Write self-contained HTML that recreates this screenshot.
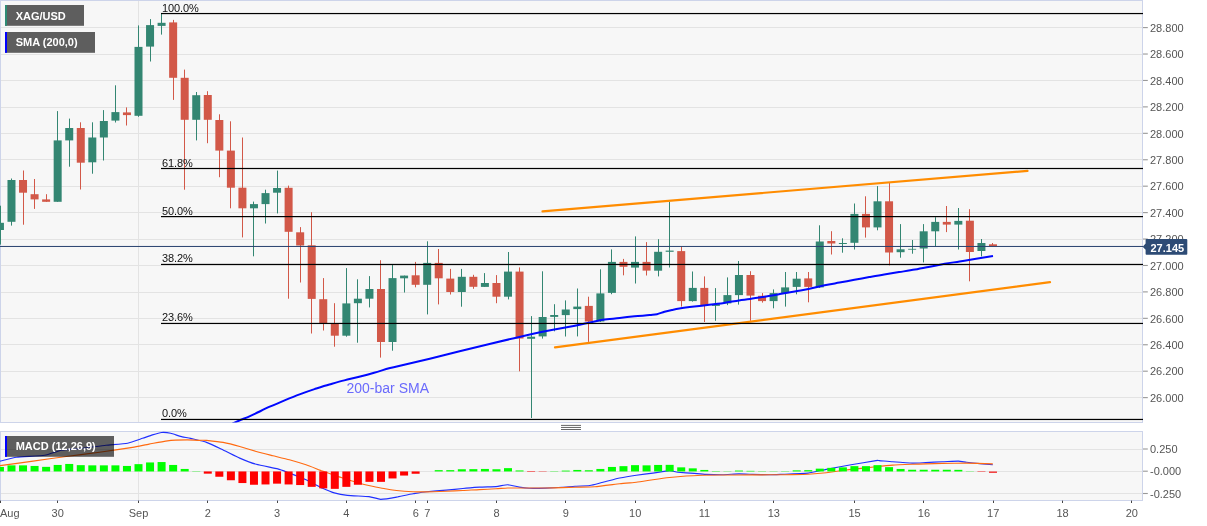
<!DOCTYPE html>
<html lang="en">
<head>
<meta charset="utf-8">
<title>XAG/USD chart</title>
<style>
html,body{margin:0;padding:0;background:#fff;}
body{width:1207px;height:526px;overflow:hidden;font-family:"Liberation Sans",sans-serif;}
svg{display:block;}
</style>
</head>
<body>
<svg width="1207" height="526" viewBox="0 0 1207 526" font-family="'Liberation Sans', sans-serif">
<rect x="0" y="0" width="1207" height="526" fill="#ffffff"/>
<rect x="0" y="0" width="1143" height="422.5" fill="#f7f7f7"/>
<rect x="0" y="431" width="1143" height="69.5" fill="#f7f7f7"/>
<defs><clipPath id="cm"><rect x="0" y="0" width="1143" height="422.5"/></clipPath><clipPath id="cd"><rect x="0" y="431" width="1143" height="69.5"/></clipPath></defs>
<rect x="1" y="27" width="1141.5" height="1" fill="#e3e3e3"/>
<rect x="1" y="54" width="1141.5" height="1" fill="#e3e3e3"/>
<rect x="1" y="80" width="1141.5" height="1" fill="#e3e3e3"/>
<rect x="1" y="107" width="1141.5" height="1" fill="#e3e3e3"/>
<rect x="1" y="133" width="1141.5" height="1" fill="#e3e3e3"/>
<rect x="1" y="159" width="1141.5" height="1" fill="#e3e3e3"/>
<rect x="1" y="186" width="1141.5" height="1" fill="#e3e3e3"/>
<rect x="1" y="212" width="1141.5" height="1" fill="#e3e3e3"/>
<rect x="1" y="239" width="1141.5" height="1" fill="#e3e3e3"/>
<rect x="1" y="265" width="1141.5" height="1" fill="#e3e3e3"/>
<rect x="1" y="292" width="1141.5" height="1" fill="#e3e3e3"/>
<rect x="1" y="318" width="1141.5" height="1" fill="#e3e3e3"/>
<rect x="1" y="344" width="1141.5" height="1" fill="#e3e3e3"/>
<rect x="1" y="371" width="1141.5" height="1" fill="#e3e3e3"/>
<rect x="1" y="397" width="1141.5" height="1" fill="#e3e3e3"/>
<rect x="138.00" y="1" width="1" height="421" fill="#e3e3e3"/>
<rect x="138.00" y="431.5" width="1" height="68.5" fill="#e3e3e3"/>
<rect x="1" y="449" width="1141.5" height="1" fill="#e3e3e3"/>
<rect x="1" y="471" width="1141.5" height="1" fill="#e3e3e3"/>
<rect x="1" y="493" width="1141.5" height="1" fill="#e3e3e3"/>
<rect x="0.5" y="0.5" width="1142" height="422" fill="none" stroke="#cdd4ea" stroke-width="1"/>
<rect x="0.5" y="431.5" width="1142" height="69" fill="none" stroke="#cdd4ea" stroke-width="1"/>
<g clip-path="url(#cm)">
<rect x="0" y="205.70" width="1" height="38.90" fill="#338672"/>
<rect x="-4.06" y="222.80" width="8" height="7.20" fill="#338672"/>
<rect x="11" y="178.50" width="1" height="47.10" fill="#338672"/>
<rect x="7.48" y="180.00" width="8" height="41.80" fill="#338672"/>
<rect x="23" y="170.50" width="1" height="54.20" fill="#d25848"/>
<rect x="19.03" y="180.00" width="8" height="12.70" fill="#d25848"/>
<rect x="34" y="179.00" width="1" height="29.90" fill="#d25848"/>
<rect x="30.58" y="194.20" width="8" height="5.20" fill="#d25848"/>
<rect x="46" y="194.20" width="1" height="7.60" fill="#d25848"/>
<rect x="42.12" y="199.40" width="8" height="2.40" fill="#d25848"/>
<rect x="57" y="111.10" width="1" height="90.70" fill="#338672"/>
<rect x="53.67" y="140.40" width="8" height="61.40" fill="#338672"/>
<rect x="69" y="118.60" width="1" height="48.10" fill="#338672"/>
<rect x="65.22" y="128.00" width="8" height="12.40" fill="#338672"/>
<rect x="80" y="122.30" width="1" height="67.20" fill="#d25848"/>
<rect x="76.77" y="128.00" width="8" height="34.70" fill="#d25848"/>
<rect x="92" y="122.30" width="1" height="51.40" fill="#338672"/>
<rect x="88.31" y="137.50" width="8" height="24.80" fill="#338672"/>
<rect x="103" y="110.10" width="1" height="50.40" fill="#338672"/>
<rect x="99.86" y="121.00" width="8" height="16.50" fill="#338672"/>
<rect x="115" y="85.30" width="1" height="37.20" fill="#338672"/>
<rect x="111.41" y="112.10" width="8" height="8.50" fill="#338672"/>
<rect x="126" y="107.40" width="1" height="18.10" fill="#d25848"/>
<rect x="122.95" y="112.40" width="8" height="2.70" fill="#d25848"/>
<rect x="138" y="25.40" width="1" height="91.40" fill="#338672"/>
<rect x="134.50" y="46.90" width="8" height="68.90" fill="#338672"/>
<rect x="150" y="19.10" width="1" height="42.40" fill="#338672"/>
<rect x="146.05" y="25.10" width="8" height="21.50" fill="#338672"/>
<rect x="161" y="13.70" width="1" height="20.90" fill="#338672"/>
<rect x="157.59" y="22.80" width="8" height="3.10" fill="#338672"/>
<rect x="173" y="19.90" width="1" height="80.00" fill="#d25848"/>
<rect x="169.14" y="22.40" width="8" height="55.40" fill="#d25848"/>
<rect x="184" y="69.60" width="1" height="120.10" fill="#d25848"/>
<rect x="180.69" y="77.80" width="8" height="42.00" fill="#d25848"/>
<rect x="196" y="92.00" width="1" height="48.40" fill="#338672"/>
<rect x="192.24" y="95.20" width="8" height="24.60" fill="#338672"/>
<rect x="207" y="91.20" width="1" height="52.00" fill="#d25848"/>
<rect x="203.78" y="95.00" width="8" height="24.80" fill="#d25848"/>
<rect x="219" y="114.30" width="1" height="62.90" fill="#d25848"/>
<rect x="215.33" y="120.00" width="8" height="30.60" fill="#d25848"/>
<rect x="230" y="121.30" width="1" height="87.00" fill="#d25848"/>
<rect x="226.88" y="150.60" width="8" height="37.10" fill="#d25848"/>
<rect x="242" y="137.50" width="1" height="99.90" fill="#d25848"/>
<rect x="238.42" y="187.70" width="8" height="20.60" fill="#d25848"/>
<rect x="253" y="201.60" width="1" height="54.70" fill="#338672"/>
<rect x="249.97" y="204.10" width="8" height="4.20" fill="#338672"/>
<rect x="265" y="189.70" width="1" height="33.80" fill="#338672"/>
<rect x="261.52" y="193.10" width="8" height="11.00" fill="#338672"/>
<rect x="277" y="170.60" width="1" height="42.80" fill="#338672"/>
<rect x="273.06" y="188.00" width="8" height="4.70" fill="#338672"/>
<rect x="288" y="185.60" width="1" height="113.10" fill="#d25848"/>
<rect x="284.61" y="187.80" width="8" height="44.00" fill="#d25848"/>
<rect x="300" y="227.10" width="1" height="55.40" fill="#d25848"/>
<rect x="296.16" y="232.30" width="8" height="13.20" fill="#d25848"/>
<rect x="311" y="212.20" width="1" height="121.30" fill="#d25848"/>
<rect x="307.71" y="245.30" width="8" height="53.60" fill="#d25848"/>
<rect x="323" y="278.10" width="1" height="52.40" fill="#d25848"/>
<rect x="319.25" y="299.20" width="8" height="23.90" fill="#d25848"/>
<rect x="334" y="303.20" width="1" height="43.50" fill="#d25848"/>
<rect x="330.80" y="323.60" width="8" height="12.10" fill="#d25848"/>
<rect x="346" y="268.10" width="1" height="68.60" fill="#338672"/>
<rect x="342.35" y="303.40" width="8" height="32.30" fill="#338672"/>
<rect x="357" y="279.30" width="1" height="63.40" fill="#338672"/>
<rect x="353.89" y="298.70" width="8" height="4.50" fill="#338672"/>
<rect x="369" y="276.10" width="1" height="31.30" fill="#338672"/>
<rect x="365.44" y="289.00" width="8" height="9.70" fill="#338672"/>
<rect x="380" y="260.20" width="1" height="97.40" fill="#d25848"/>
<rect x="376.99" y="289.00" width="8" height="53.00" fill="#d25848"/>
<rect x="392" y="264.40" width="1" height="86.30" fill="#338672"/>
<rect x="388.53" y="278.10" width="8" height="63.90" fill="#338672"/>
<rect x="404" y="275.60" width="1" height="16.90" fill="#338672"/>
<rect x="400.08" y="275.60" width="8" height="2.70" fill="#338672"/>
<rect x="415" y="261.90" width="1" height="25.40" fill="#d25848"/>
<rect x="411.63" y="275.30" width="8" height="9.50" fill="#d25848"/>
<rect x="427" y="241.30" width="1" height="73.10" fill="#338672"/>
<rect x="423.18" y="262.90" width="8" height="21.90" fill="#338672"/>
<rect x="438" y="249.00" width="1" height="55.40" fill="#d25848"/>
<rect x="434.72" y="262.90" width="8" height="15.40" fill="#d25848"/>
<rect x="450" y="268.90" width="1" height="25.60" fill="#d25848"/>
<rect x="446.27" y="278.60" width="8" height="13.40" fill="#d25848"/>
<rect x="461" y="268.90" width="1" height="37.80" fill="#338672"/>
<rect x="457.82" y="276.80" width="8" height="15.20" fill="#338672"/>
<rect x="473" y="274.80" width="1" height="14.00" fill="#d25848"/>
<rect x="469.36" y="276.80" width="8" height="10.00" fill="#d25848"/>
<rect x="484" y="273.10" width="1" height="13.80" fill="#338672"/>
<rect x="480.91" y="283.00" width="8" height="3.90" fill="#338672"/>
<rect x="496" y="275.10" width="1" height="28.10" fill="#d25848"/>
<rect x="492.46" y="283.00" width="8" height="13.70" fill="#d25848"/>
<rect x="508" y="252.00" width="1" height="47.40" fill="#338672"/>
<rect x="504.00" y="271.60" width="8" height="25.10" fill="#338672"/>
<rect x="519" y="267.40" width="1" height="103.90" fill="#d25848"/>
<rect x="515.55" y="271.60" width="8" height="66.90" fill="#d25848"/>
<rect x="531" y="316.10" width="1" height="101.90" fill="#338672"/>
<rect x="527.10" y="336.70" width="8" height="2.10" fill="#338672"/>
<rect x="542" y="271.30" width="1" height="67.30" fill="#338672"/>
<rect x="538.64" y="317.00" width="8" height="19.40" fill="#338672"/>
<rect x="554" y="304.20" width="1" height="27.10" fill="#338672"/>
<rect x="550.19" y="315.00" width="8" height="1.90" fill="#338672"/>
<rect x="565" y="300.40" width="1" height="36.10" fill="#338672"/>
<rect x="561.74" y="309.50" width="8" height="5.60" fill="#338672"/>
<rect x="577" y="288.50" width="1" height="47.90" fill="#338672"/>
<rect x="573.29" y="306.60" width="8" height="2.50" fill="#338672"/>
<rect x="588" y="296.70" width="1" height="45.20" fill="#d25848"/>
<rect x="584.83" y="305.90" width="8" height="15.60" fill="#d25848"/>
<rect x="600" y="269.30" width="1" height="52.70" fill="#338672"/>
<rect x="596.38" y="293.40" width="8" height="28.10" fill="#338672"/>
<rect x="611" y="249.40" width="1" height="44.80" fill="#338672"/>
<rect x="607.93" y="261.90" width="8" height="31.00" fill="#338672"/>
<rect x="623" y="258.90" width="1" height="16.40" fill="#d25848"/>
<rect x="619.47" y="261.90" width="8" height="4.90" fill="#d25848"/>
<rect x="635" y="236.40" width="1" height="47.10" fill="#338672"/>
<rect x="631.02" y="261.90" width="8" height="5.70" fill="#338672"/>
<rect x="646" y="242.10" width="1" height="33.40" fill="#d25848"/>
<rect x="642.57" y="261.90" width="8" height="8.70" fill="#d25848"/>
<rect x="658" y="239.20" width="1" height="37.20" fill="#338672"/>
<rect x="654.12" y="251.80" width="8" height="18.90" fill="#338672"/>
<rect x="669" y="201.90" width="1" height="65.60" fill="#338672"/>
<rect x="665.66" y="250.60" width="8" height="1.20" fill="#338672"/>
<rect x="681" y="246.60" width="1" height="60.00" fill="#d25848"/>
<rect x="677.21" y="251.10" width="8" height="50.00" fill="#d25848"/>
<rect x="692" y="271.50" width="1" height="30.10" fill="#338672"/>
<rect x="688.76" y="287.90" width="8" height="13.20" fill="#338672"/>
<rect x="704" y="276.40" width="1" height="45.60" fill="#d25848"/>
<rect x="700.30" y="287.90" width="8" height="17.20" fill="#d25848"/>
<rect x="715" y="288.10" width="1" height="32.70" fill="#338672"/>
<rect x="711.85" y="304.10" width="8" height="1.80" fill="#338672"/>
<rect x="727" y="277.40" width="1" height="27.70" fill="#338672"/>
<rect x="723.40" y="295.10" width="8" height="8.30" fill="#338672"/>
<rect x="738" y="261.00" width="1" height="43.60" fill="#338672"/>
<rect x="734.94" y="275.00" width="8" height="20.10" fill="#338672"/>
<rect x="750" y="271.20" width="1" height="49.60" fill="#d25848"/>
<rect x="746.49" y="275.00" width="8" height="20.60" fill="#d25848"/>
<rect x="762" y="293.10" width="1" height="9.50" fill="#d25848"/>
<rect x="758.04" y="295.80" width="8" height="5.30" fill="#d25848"/>
<rect x="773" y="289.40" width="1" height="18.90" fill="#338672"/>
<rect x="769.59" y="293.10" width="8" height="8.00" fill="#338672"/>
<rect x="785" y="272.00" width="1" height="34.60" fill="#338672"/>
<rect x="781.13" y="287.40" width="8" height="5.70" fill="#338672"/>
<rect x="796" y="272.00" width="1" height="22.30" fill="#338672"/>
<rect x="792.68" y="278.70" width="8" height="8.20" fill="#338672"/>
<rect x="808" y="272.00" width="1" height="30.30" fill="#d25848"/>
<rect x="804.23" y="278.40" width="8" height="8.50" fill="#d25848"/>
<rect x="819" y="225.30" width="1" height="62.70" fill="#338672"/>
<rect x="815.77" y="241.50" width="8" height="45.90" fill="#338672"/>
<rect x="831" y="231.20" width="1" height="23.30" fill="#d25848"/>
<rect x="827.32" y="241.00" width="8" height="2.50" fill="#d25848"/>
<rect x="842" y="238.30" width="1" height="14.40" fill="#338672"/>
<rect x="838.87" y="243.00" width="8" height="1.00" fill="#338672"/>
<rect x="854" y="203.50" width="1" height="46.00" fill="#338672"/>
<rect x="850.41" y="213.90" width="8" height="28.90" fill="#338672"/>
<rect x="865" y="196.30" width="1" height="41.30" fill="#d25848"/>
<rect x="861.96" y="213.90" width="8" height="13.50" fill="#d25848"/>
<rect x="877" y="186.10" width="1" height="44.20" fill="#338672"/>
<rect x="873.51" y="201.30" width="8" height="26.10" fill="#338672"/>
<rect x="889" y="182.90" width="1" height="82.50" fill="#d25848"/>
<rect x="885.06" y="201.30" width="8" height="51.20" fill="#d25848"/>
<rect x="900" y="224.10" width="1" height="33.60" fill="#338672"/>
<rect x="896.60" y="249.30" width="8" height="2.90" fill="#338672"/>
<rect x="912" y="240.00" width="1" height="13.70" fill="#338672"/>
<rect x="908.15" y="248.85" width="8" height="0.80" fill="#338672"/>
<rect x="923" y="224.10" width="1" height="38.30" fill="#338672"/>
<rect x="919.70" y="231.30" width="8" height="17.20" fill="#338672"/>
<rect x="935" y="217.20" width="1" height="29.10" fill="#338672"/>
<rect x="931.24" y="221.90" width="8" height="9.40" fill="#338672"/>
<rect x="946" y="206.00" width="1" height="26.10" fill="#d25848"/>
<rect x="942.79" y="221.90" width="8" height="2.70" fill="#d25848"/>
<rect x="958" y="208.00" width="1" height="41.50" fill="#338672"/>
<rect x="954.34" y="220.90" width="8" height="3.70" fill="#338672"/>
<rect x="969" y="209.20" width="1" height="72.10" fill="#d25848"/>
<rect x="965.88" y="220.70" width="8" height="31.30" fill="#d25848"/>
<rect x="981" y="239.00" width="1" height="17.40" fill="#338672"/>
<rect x="977.43" y="243.00" width="8" height="8.00" fill="#338672"/>
<rect x="992" y="243.00" width="1" height="3.00" fill="#d25848"/>
<rect x="988.98" y="244.30" width="8" height="1.70" fill="#d25848"/>
<path fill="none" stroke="#0008ff" stroke-width="2" stroke-linejoin="round" d="M232.5 423.5C234.2 422.8 240.2 420.1 242.4 419.2C244.6 418.3 243.8 418.8 245.9 417.9C248.0 417.0 250.8 415.7 254.8 413.9C258.8 412.0 264.7 409.0 269.7 406.7C274.7 404.5 279.6 402.5 284.6 400.4C289.6 398.3 294.6 396.2 299.6 394.4C304.6 392.5 309.5 390.7 314.5 389.1C319.5 387.5 324.4 385.9 329.4 384.5C334.4 383.1 339.3 381.7 344.3 380.4C349.3 379.1 354.2 378.0 359.2 376.7C364.2 375.4 369.1 374.1 374.1 372.7C379.1 371.3 384.7 369.5 389.0 368.3C393.3 367.2 393.2 367.4 400.0 365.8C406.8 364.2 419.9 361.1 429.8 358.7C439.7 356.3 449.7 353.6 459.6 351.2C469.6 348.8 479.6 346.4 489.5 344.0C499.4 341.6 509.4 339.2 519.3 337.0C529.2 334.8 539.8 332.5 549.1 330.6C558.4 328.8 568.2 327.0 575.0 325.7C581.8 324.3 584.9 323.5 589.9 322.4C594.9 321.4 599.8 320.3 604.8 319.6C609.8 318.8 614.7 318.4 619.7 317.9C624.7 317.4 629.6 316.8 634.6 316.3C639.6 315.8 645.9 315.5 649.6 315.1C653.3 314.7 654.5 314.8 657.0 314.2C659.5 313.6 662.0 312.4 664.5 311.7C667.0 311.0 669.4 310.5 671.9 310.0C674.4 309.5 675.7 309.2 679.4 308.6C683.1 308.0 689.3 307.2 694.3 306.6C699.3 306.0 704.2 305.4 709.2 304.8C714.2 304.2 719.1 303.6 724.1 302.9C729.1 302.2 734.7 301.0 739.0 300.4C743.3 299.8 745.7 299.6 750.0 299.0C754.3 298.4 759.9 297.5 764.9 296.7C769.9 295.9 774.8 295.0 779.8 294.1C784.8 293.2 789.7 292.3 794.7 291.4C799.7 290.5 804.6 289.8 809.6 288.8C814.6 287.8 819.6 286.3 824.6 285.3C829.6 284.3 834.5 283.5 839.5 282.6C844.5 281.7 849.4 280.7 854.4 279.8C859.4 278.9 864.3 278.0 869.3 277.1C874.3 276.2 879.2 275.3 884.2 274.5C889.2 273.7 894.0 272.9 899.1 272.1C904.2 271.3 909.8 270.5 914.9 269.6C920.0 268.7 924.8 267.7 929.8 266.7C934.8 265.8 939.7 264.6 944.7 263.8C949.7 262.9 954.6 262.3 959.6 261.5C964.6 260.7 969.0 260.0 974.6 259.1C980.2 258.2 989.9 256.5 993.0 256.0"/>
<text x="346.5" y="393.3" font-size="14" fill="#6a6afc">200-bar SMA</text>
<line x1="542.5" y1="211.3" x2="1027.5" y2="170.9" stroke="#ff8c00" stroke-width="2.2" stroke-linecap="round"/>
<line x1="555" y1="347.3" x2="1050" y2="282.2" stroke="#ff8c00" stroke-width="2.2" stroke-linecap="round"/>
<rect x="161" y="12.95" width="982" height="1.2" fill="#000"/>
<text x="162" y="12.00" font-size="11" fill="#111" letter-spacing="-0.1">100.0%</text>
<rect x="161" y="167.90" width="982" height="1.2" fill="#000"/>
<text x="162" y="166.90" font-size="11" fill="#111" letter-spacing="-0.1">61.8%</text>
<rect x="161" y="216.00" width="982" height="1.2" fill="#000"/>
<text x="162" y="214.70" font-size="11" fill="#111" letter-spacing="-0.1">50.0%</text>
<rect x="161" y="263.85" width="982" height="1.2" fill="#000"/>
<text x="162" y="261.90" font-size="11" fill="#111" letter-spacing="-0.1">38.2%</text>
<rect x="161" y="322.85" width="982" height="1.2" fill="#000"/>
<text x="162" y="321.30" font-size="11" fill="#111" letter-spacing="-0.1">23.6%</text>
<rect x="161" y="418.85" width="982" height="1.2" fill="#000"/>
<text x="162" y="416.70" font-size="11" fill="#111" letter-spacing="-0.1">0.0%</text>
<rect x="0" y="245.95" width="1143" height="1" fill="#27406e"/>
</g>
<g clip-path="url(#cd)">
<path fill="none" stroke="#2030ff" stroke-width="1.15" stroke-linejoin="round" d="M0.0 461.1C1.4 460.8 12.9 457.8 16.6 457.3C20.3 456.8 41.0 455.9 44.7 455.3C48.4 454.7 58.1 450.8 61.3 450.2C64.5 449.6 79.2 448.6 82.9 448.2C86.6 447.8 102.3 445.6 106.0 445.2C109.7 444.8 124.6 443.8 127.6 443.2C130.6 442.6 140.4 439.0 142.5 438.3C144.6 437.6 150.8 435.4 152.4 434.9C154.0 434.4 160.1 432.6 161.6 432.5C163.1 432.4 169.0 432.9 170.7 433.3C172.4 433.7 180.6 436.5 182.3 436.9C184.0 437.3 188.6 437.9 190.6 438.4C192.6 438.9 203.9 441.4 206.6 442.4C209.3 443.4 220.3 448.6 223.1 449.9C225.9 451.2 236.9 456.9 239.7 458.1C242.5 459.3 253.1 463.4 256.3 464.3C259.5 465.2 275.0 468.2 277.8 468.9C280.6 469.6 287.0 472.2 289.4 473.1C291.8 474.0 303.2 478.4 306.0 479.7C308.8 481.0 320.2 487.2 322.6 488.3C325.0 489.4 332.1 492.3 334.2 492.9C336.3 493.5 344.5 495.1 347.4 495.4C350.3 495.7 366.2 496.3 369.0 496.6C371.8 496.9 378.3 499.3 380.6 499.3C382.9 499.3 393.9 497.6 396.6 497.1C399.3 496.6 410.6 494.2 413.1 493.8C415.6 493.4 423.6 492.1 426.4 491.8C429.2 491.5 443.3 490.4 446.3 490.1C449.3 489.8 460.1 488.8 462.9 488.5C465.7 488.2 476.6 487.3 479.4 487.1C482.2 486.9 493.6 486.8 496.0 486.6C498.4 486.4 505.7 484.7 507.6 484.7C509.5 484.7 517.4 486.8 519.2 487.1C521.0 487.4 526.9 488.2 529.1 488.3C531.3 488.4 542.9 488.2 545.7 488.1C548.5 488.0 559.9 487.4 562.3 487.3C564.7 487.2 572.7 486.4 575.0 486.3C577.3 486.2 587.6 485.8 589.9 485.5C592.2 485.2 600.6 482.8 603.1 482.2C605.6 481.6 616.9 478.6 619.7 478.0C622.5 477.4 633.5 475.6 636.3 475.2C639.1 474.8 650.1 473.5 652.9 473.1C655.7 472.7 667.3 470.7 669.4 470.6C671.5 470.5 675.6 472.0 677.7 472.2C679.8 472.4 691.9 473.2 694.3 473.4C696.6 473.6 703.5 474.3 705.9 474.4C708.2 474.5 719.7 474.7 722.5 474.7C725.3 474.7 736.5 473.9 739.0 473.9C741.5 473.9 749.7 474.3 752.3 474.4C754.9 474.5 767.3 474.7 770.0 474.7C772.7 474.7 781.7 474.3 784.9 474.2C788.1 474.1 804.6 473.5 808.1 473.1C811.6 472.7 822.7 470.1 826.3 469.4C829.9 468.7 847.0 465.5 851.1 464.8C855.2 464.1 873.6 461.0 876.0 460.6C878.4 460.2 877.9 460.5 879.3 460.6C880.7 460.7 889.8 461.6 892.6 461.8C895.4 462.0 909.6 463.0 912.4 463.1C915.2 463.2 923.2 462.7 925.7 462.6C928.2 462.5 939.6 461.9 942.3 461.8C945.0 461.7 956.3 461.1 958.3 461.1C960.3 461.1 964.8 462.1 966.6 462.3C968.4 462.5 977.6 463.4 979.8 463.6C982.0 463.8 991.7 464.7 992.8 464.8"/>
<path fill="none" stroke="#ff6a10" stroke-width="1.15" stroke-linejoin="round" d="M0.0 465.6C2.8 465.2 27.6 461.9 33.1 461.1C38.6 460.3 60.8 457.2 66.3 456.5C71.8 455.8 93.9 453.1 99.4 452.3C104.9 451.5 128.5 448.1 132.6 447.4C136.7 446.7 146.3 444.6 149.1 444.1C151.9 443.6 163.5 441.4 165.7 441.1C167.9 440.8 173.8 440.2 175.6 440.1C177.4 440.0 185.2 439.9 187.2 439.9C189.2 439.9 198.4 440.3 200.0 440.3C201.6 440.3 204.7 440.2 206.6 440.4C208.5 440.6 220.3 441.9 223.1 442.4C225.9 442.9 236.9 445.7 239.7 446.5C242.5 447.3 253.5 450.7 256.3 451.5C259.1 452.3 270.1 455.0 272.9 455.7C275.7 456.4 286.6 459.0 289.4 459.8C292.2 460.6 303.2 463.9 306.0 464.8C308.8 465.7 319.8 470.1 322.6 471.1C325.4 472.1 336.3 476.0 339.1 476.9C341.9 477.8 352.9 481.4 355.7 482.2C358.5 483.0 369.9 485.8 372.3 486.3C374.7 486.9 383.0 488.4 385.0 488.8C387.0 489.2 394.3 490.2 396.6 490.5C398.9 490.8 410.6 491.7 413.1 491.8C415.6 491.9 423.6 491.8 426.4 491.8C429.2 491.8 443.3 491.4 446.3 491.3C449.3 491.2 460.1 490.6 462.9 490.5C465.7 490.4 476.6 489.7 479.4 489.6C482.2 489.5 493.6 488.9 496.0 488.8C498.4 488.7 504.8 488.1 507.6 488.0C510.4 487.9 525.9 488.0 529.1 488.0C532.3 488.0 542.9 488.0 545.7 488.0C548.5 488.0 559.9 487.7 562.3 487.6C564.7 487.5 572.3 487.3 575.0 487.2C577.7 487.1 591.2 487.1 594.9 486.8C598.6 486.5 616.2 484.2 619.7 483.8C623.2 483.4 633.5 482.5 636.3 482.2C639.1 481.9 650.1 480.1 652.9 479.7C655.7 479.3 666.6 477.8 669.4 477.5C672.2 477.2 683.2 476.2 686.0 476.0C688.8 475.8 699.8 475.3 702.6 475.2C705.4 475.1 716.3 475.0 719.1 475.0C721.9 475.0 731.5 475.0 735.7 475.0C739.9 475.0 765.9 474.8 770.0 474.8C774.1 474.8 781.7 474.8 784.9 474.7C788.1 474.6 804.6 474.4 808.1 474.2C811.6 474.0 822.7 473.1 826.3 472.7C829.9 472.3 847.0 469.9 851.1 469.4C855.2 468.9 872.5 467.2 876.0 466.8C879.5 466.4 889.6 465.3 892.6 465.1C895.6 464.9 909.6 464.4 912.4 464.3C915.2 464.2 923.2 464.0 925.7 463.9C928.2 463.8 938.9 463.5 942.3 463.4C945.7 463.3 962.4 463.1 966.6 463.1C970.8 463.1 990.6 463.8 992.8 463.9"/>
<rect x="-4.06" y="466.95" width="8" height="4.50" fill="#00ff00" fill-opacity="1.00"/>
<rect x="7.48" y="465.35" width="8" height="6.10" fill="#00ff00" fill-opacity="1.00"/>
<rect x="19.03" y="465.35" width="8" height="6.10" fill="#00ff00" fill-opacity="1.00"/>
<rect x="30.58" y="465.95" width="8" height="5.50" fill="#00ff00" fill-opacity="1.00"/>
<rect x="42.12" y="466.85" width="8" height="4.60" fill="#00ff00" fill-opacity="1.00"/>
<rect x="53.67" y="464.95" width="8" height="6.50" fill="#00ff00" fill-opacity="1.00"/>
<rect x="65.22" y="463.95" width="8" height="7.50" fill="#00ff00" fill-opacity="1.00"/>
<rect x="76.77" y="465.15" width="8" height="6.30" fill="#00ff00" fill-opacity="1.00"/>
<rect x="88.31" y="465.35" width="8" height="6.10" fill="#00ff00" fill-opacity="1.00"/>
<rect x="99.86" y="465.35" width="8" height="6.10" fill="#00ff00" fill-opacity="1.00"/>
<rect x="111.41" y="465.35" width="8" height="6.10" fill="#00ff00" fill-opacity="1.00"/>
<rect x="122.95" y="465.95" width="8" height="5.50" fill="#00ff00" fill-opacity="1.00"/>
<rect x="134.50" y="464.15" width="8" height="7.30" fill="#00ff00" fill-opacity="1.00"/>
<rect x="146.05" y="462.45" width="8" height="9.00" fill="#00ff00" fill-opacity="1.00"/>
<rect x="157.59" y="462.05" width="8" height="9.40" fill="#00ff00" fill-opacity="1.00"/>
<rect x="169.14" y="464.95" width="8" height="6.50" fill="#00ff00" fill-opacity="1.00"/>
<rect x="180.69" y="468.95" width="8" height="2.50" fill="#00ff00" fill-opacity="1.00"/>
<rect x="192.24" y="471.15" width="8" height="0.30" fill="#00ff00" fill-opacity="1.00"/>
<rect x="203.78" y="471.45" width="8" height="2.20" fill="#ff0000" fill-opacity="1.00"/>
<rect x="215.33" y="471.45" width="8" height="5.30" fill="#ff0000" fill-opacity="1.00"/>
<rect x="226.88" y="471.45" width="8" height="8.80" fill="#ff0000" fill-opacity="1.00"/>
<rect x="238.42" y="471.45" width="8" height="11.60" fill="#ff0000" fill-opacity="1.00"/>
<rect x="249.97" y="471.45" width="8" height="13.30" fill="#ff0000" fill-opacity="1.00"/>
<rect x="261.52" y="471.45" width="8" height="13.00" fill="#ff0000" fill-opacity="1.00"/>
<rect x="273.06" y="471.45" width="8" height="12.20" fill="#ff0000" fill-opacity="1.00"/>
<rect x="284.61" y="471.45" width="8" height="13.00" fill="#ff0000" fill-opacity="1.00"/>
<rect x="296.16" y="471.45" width="8" height="13.60" fill="#ff0000" fill-opacity="1.00"/>
<rect x="307.71" y="471.45" width="8" height="15.40" fill="#ff0000" fill-opacity="1.00"/>
<rect x="319.25" y="471.45" width="8" height="16.90" fill="#ff0000" fill-opacity="1.00"/>
<rect x="330.80" y="471.45" width="8" height="17.40" fill="#ff0000" fill-opacity="1.00"/>
<rect x="342.35" y="471.45" width="8" height="15.40" fill="#ff0000" fill-opacity="1.00"/>
<rect x="353.89" y="471.45" width="8" height="13.30" fill="#ff0000" fill-opacity="1.00"/>
<rect x="365.44" y="471.45" width="8" height="10.40" fill="#ff0000" fill-opacity="1.00"/>
<rect x="376.99" y="471.45" width="8" height="10.40" fill="#ff0000" fill-opacity="1.00"/>
<rect x="388.53" y="471.45" width="8" height="7.00" fill="#ff0000" fill-opacity="1.00"/>
<rect x="400.08" y="471.45" width="8" height="4.10" fill="#ff0000" fill-opacity="1.00"/>
<rect x="411.63" y="471.45" width="8" height="2.30" fill="#ff0000" fill-opacity="1.00"/>
<rect x="434.72" y="470.15" width="8" height="1.30" fill="#00ff00" fill-opacity="1.00"/>
<rect x="446.27" y="470.15" width="8" height="1.30" fill="#00ff00" fill-opacity="1.00"/>
<rect x="457.82" y="469.25" width="8" height="2.20" fill="#00ff00" fill-opacity="1.00"/>
<rect x="469.36" y="469.15" width="8" height="2.30" fill="#00ff00" fill-opacity="1.00"/>
<rect x="480.91" y="468.95" width="8" height="2.50" fill="#00ff00" fill-opacity="1.00"/>
<rect x="492.46" y="469.25" width="8" height="2.20" fill="#00ff00" fill-opacity="1.00"/>
<rect x="504.00" y="468.15" width="8" height="3.30" fill="#00ff00" fill-opacity="1.00"/>
<rect x="515.55" y="470.45" width="8" height="1.00" fill="#00ff00" fill-opacity="1.00"/>
<rect x="527.10" y="471.45" width="8" height="0.50" fill="#ff0000" fill-opacity="1.00"/>
<rect x="538.64" y="471.45" width="8" height="0.30" fill="#ff0000" fill-opacity="1.00"/>
<rect x="550.19" y="471.15" width="8" height="0.30" fill="#00ff00" fill-opacity="1.00"/>
<rect x="561.74" y="470.60" width="8" height="0.85" fill="#00ff00" fill-opacity="1.00"/>
<rect x="573.29" y="469.95" width="8" height="1.50" fill="#00ff00" fill-opacity="1.00"/>
<rect x="584.83" y="470.25" width="8" height="1.20" fill="#00ff00" fill-opacity="1.00"/>
<rect x="596.38" y="468.95" width="8" height="2.50" fill="#00ff00" fill-opacity="1.00"/>
<rect x="607.93" y="466.95" width="8" height="4.50" fill="#00ff00" fill-opacity="1.00"/>
<rect x="619.47" y="466.15" width="8" height="5.30" fill="#00ff00" fill-opacity="1.00"/>
<rect x="631.02" y="465.15" width="8" height="6.30" fill="#00ff00" fill-opacity="1.00"/>
<rect x="642.57" y="465.35" width="8" height="6.10" fill="#00ff00" fill-opacity="1.00"/>
<rect x="654.12" y="464.95" width="8" height="6.50" fill="#00ff00" fill-opacity="1.00"/>
<rect x="665.66" y="464.85" width="8" height="6.60" fill="#00ff00" fill-opacity="1.00"/>
<rect x="677.21" y="467.35" width="8" height="4.10" fill="#00ff00" fill-opacity="1.00"/>
<rect x="688.76" y="468.35" width="8" height="3.10" fill="#00ff00" fill-opacity="1.00"/>
<rect x="700.30" y="469.95" width="8" height="1.50" fill="#00ff00" fill-opacity="1.00"/>
<rect x="711.85" y="471.05" width="8" height="0.40" fill="#00ff00" fill-opacity="1.00"/>
<rect x="723.40" y="471.20" width="8" height="0.25" fill="#00ff00" fill-opacity="1.00"/>
<rect x="734.94" y="470.55" width="8" height="0.90" fill="#00ff00" fill-opacity="1.00"/>
<rect x="746.49" y="470.85" width="8" height="0.60" fill="#00ff00" fill-opacity="1.00"/>
<rect x="758.04" y="471.15" width="8" height="0.30" fill="#00ff00" fill-opacity="1.00"/>
<rect x="769.59" y="471.20" width="8" height="0.25" fill="#00ff00" fill-opacity="1.00"/>
<rect x="781.13" y="471.15" width="8" height="0.30" fill="#00ff00" fill-opacity="1.00"/>
<rect x="792.68" y="470.35" width="8" height="1.10" fill="#00ff00" fill-opacity="1.00"/>
<rect x="804.23" y="470.15" width="8" height="1.30" fill="#00ff00" fill-opacity="1.00"/>
<rect x="815.77" y="468.65" width="8" height="2.80" fill="#00ff00" fill-opacity="1.00"/>
<rect x="827.32" y="467.85" width="8" height="3.60" fill="#00ff00" fill-opacity="1.00"/>
<rect x="838.87" y="467.35" width="8" height="4.10" fill="#00ff00" fill-opacity="1.00"/>
<rect x="850.41" y="466.15" width="8" height="5.30" fill="#00ff00" fill-opacity="1.00"/>
<rect x="861.96" y="466.15" width="8" height="5.30" fill="#00ff00" fill-opacity="1.00"/>
<rect x="873.51" y="465.15" width="8" height="6.30" fill="#00ff00" fill-opacity="1.00"/>
<rect x="885.06" y="467.15" width="8" height="4.30" fill="#00ff00" fill-opacity="1.00"/>
<rect x="896.60" y="468.95" width="8" height="2.50" fill="#00ff00" fill-opacity="1.00"/>
<rect x="908.15" y="469.75" width="8" height="1.70" fill="#00ff00" fill-opacity="1.00"/>
<rect x="919.70" y="469.75" width="8" height="1.70" fill="#00ff00" fill-opacity="1.00"/>
<rect x="931.24" y="469.75" width="8" height="1.70" fill="#00ff00" fill-opacity="1.00"/>
<rect x="942.79" y="469.75" width="8" height="1.70" fill="#00ff00" fill-opacity="1.00"/>
<rect x="954.34" y="469.85" width="8" height="1.60" fill="#00ff00" fill-opacity="1.00"/>
<rect x="965.88" y="471.20" width="8" height="0.25" fill="#00ff00" fill-opacity="1.00"/>
<rect x="977.43" y="471.45" width="8" height="0.40" fill="#ff0000" fill-opacity="1.00"/>
<rect x="988.98" y="471.45" width="8" height="1.50" fill="#f23a3a" fill-opacity="1.00"/>
</g>
<rect x="561" y="424.90" width="20" height="1" fill="#666"/>
<rect x="561" y="426.95" width="20" height="1" fill="#666"/>
<rect x="561" y="429.00" width="20" height="1" fill="#666"/>
<rect x="1143" y="27.05" width="4.8" height="1.1" fill="#999999"/>
<text x="1150" y="32" font-size="11" fill="#555555">28.800</text>
<rect x="1143" y="53.48" width="4.8" height="1.1" fill="#999999"/>
<text x="1150" y="58" font-size="11" fill="#555555">28.600</text>
<rect x="1143" y="79.91" width="4.8" height="1.1" fill="#999999"/>
<text x="1150" y="85" font-size="11" fill="#555555">28.400</text>
<rect x="1143" y="106.34" width="4.8" height="1.1" fill="#999999"/>
<text x="1150" y="111" font-size="11" fill="#555555">28.200</text>
<rect x="1143" y="132.77" width="4.8" height="1.1" fill="#999999"/>
<text x="1150" y="138" font-size="11" fill="#555555">28.000</text>
<rect x="1143" y="159.20" width="4.8" height="1.1" fill="#999999"/>
<text x="1150" y="164" font-size="11" fill="#555555">27.800</text>
<rect x="1143" y="185.63" width="4.8" height="1.1" fill="#999999"/>
<text x="1150" y="190" font-size="11" fill="#555555">27.600</text>
<rect x="1143" y="212.06" width="4.8" height="1.1" fill="#999999"/>
<text x="1150" y="217" font-size="11" fill="#555555">27.400</text>
<rect x="1143" y="238.49" width="4.8" height="1.1" fill="#999999"/>
<text x="1150" y="243" font-size="11" fill="#555555">27.200</text>
<rect x="1143" y="264.92" width="4.8" height="1.1" fill="#999999"/>
<text x="1150" y="270" font-size="11" fill="#555555">27.000</text>
<rect x="1143" y="291.35" width="4.8" height="1.1" fill="#999999"/>
<text x="1150" y="296" font-size="11" fill="#555555">26.800</text>
<rect x="1143" y="317.78" width="4.8" height="1.1" fill="#999999"/>
<text x="1150" y="323" font-size="11" fill="#555555">26.600</text>
<rect x="1143" y="344.21" width="4.8" height="1.1" fill="#999999"/>
<text x="1150" y="349" font-size="11" fill="#555555">26.400</text>
<rect x="1143" y="370.64" width="4.8" height="1.1" fill="#999999"/>
<text x="1150" y="375" font-size="11" fill="#555555">26.200</text>
<rect x="1143" y="397.07" width="4.8" height="1.1" fill="#999999"/>
<text x="1150" y="402" font-size="11" fill="#555555">26.000</text>
<rect x="1143" y="448.45" width="4.8" height="1.1" fill="#999999"/>
<text x="1150" y="453" font-size="11" fill="#555555">0.250</text>
<rect x="1143" y="470.65" width="4.8" height="1.1" fill="#999999"/>
<text x="1150" y="475" font-size="11" fill="#555555">-0.000</text>
<rect x="1143" y="492.95" width="4.8" height="1.1" fill="#999999"/>
<text x="1150" y="498" font-size="11" fill="#555555">-0.250</text>
<path d="M1142.7 246.7 L1145.6 243.6 L1145.6 240 Q1145.6 239.1 1146.5 239.1 L1186.4 239.1 Q1187.3 239.1 1187.3 240 L1187.3 253.8 Q1187.3 254.7 1186.4 254.7 L1146.5 254.7 Q1145.6 254.7 1145.6 253.8 L1145.6 249.8 Z" fill="#2d4b75"/>
<text x="1150.5" y="252" font-size="11" font-weight="bold" fill="#fff">27.145</text>
<rect x="0" y="500.6" width="1" height="2.4" fill="#444"/>
<text x="0" y="517.2" font-size="11" fill="#555555">Aug</text>
<rect x="57" y="500.6" width="1" height="2.4" fill="#444"/>
<text x="57.70" y="517.2" font-size="11" fill="#555555" text-anchor="middle">30</text>
<rect x="138" y="500.6" width="1" height="2.4" fill="#444"/>
<text x="138.50" y="517.2" font-size="11" fill="#555555" text-anchor="middle">Sep</text>
<rect x="207" y="500.6" width="1" height="2.4" fill="#444"/>
<text x="207.80" y="517.2" font-size="11" fill="#555555" text-anchor="middle">2</text>
<rect x="277" y="500.6" width="1" height="2.4" fill="#444"/>
<text x="277.10" y="517.2" font-size="11" fill="#555555" text-anchor="middle">3</text>
<rect x="346" y="500.6" width="1" height="2.4" fill="#444"/>
<text x="346.40" y="517.2" font-size="11" fill="#555555" text-anchor="middle">4</text>
<rect x="415" y="500.6" width="1" height="2.4" fill="#444"/>
<text x="415.70" y="517.2" font-size="11" fill="#555555" text-anchor="middle">6</text>
<rect x="427" y="500.6" width="1" height="2.4" fill="#444"/>
<text x="427.25" y="517.2" font-size="11" fill="#555555" text-anchor="middle">7</text>
<rect x="496" y="500.6" width="1" height="2.4" fill="#444"/>
<text x="496.55" y="517.2" font-size="11" fill="#555555" text-anchor="middle">8</text>
<rect x="565" y="500.6" width="1" height="2.4" fill="#444"/>
<text x="565.85" y="517.2" font-size="11" fill="#555555" text-anchor="middle">9</text>
<rect x="635" y="500.6" width="1" height="2.4" fill="#444"/>
<text x="635.15" y="517.2" font-size="11" fill="#555555" text-anchor="middle">10</text>
<rect x="704" y="500.6" width="1" height="2.4" fill="#444"/>
<text x="704.45" y="517.2" font-size="11" fill="#555555" text-anchor="middle">11</text>
<rect x="773" y="500.6" width="1" height="2.4" fill="#444"/>
<text x="773.75" y="517.2" font-size="11" fill="#555555" text-anchor="middle">13</text>
<rect x="854" y="500.6" width="1" height="2.4" fill="#444"/>
<text x="854.60" y="517.2" font-size="11" fill="#555555" text-anchor="middle">15</text>
<rect x="923" y="500.6" width="1" height="2.4" fill="#444"/>
<text x="923.90" y="517.2" font-size="11" fill="#555555" text-anchor="middle">16</text>
<rect x="993" y="500.6" width="1" height="2.4" fill="#444"/>
<text x="993.20" y="517.2" font-size="11" fill="#555555" text-anchor="middle">17</text>
<rect x="1062" y="500.6" width="1" height="2.4" fill="#444"/>
<text x="1062.50" y="517.2" font-size="11" fill="#555555" text-anchor="middle">18</text>
<rect x="1131" y="500.6" width="1" height="2.4" fill="#444"/>
<text x="1131.80" y="517.2" font-size="11" fill="#555555" text-anchor="middle">20</text>
<rect x="5" y="5" width="79" height="20.8" fill="#000" fill-opacity="0.62"/>
<rect x="5" y="5" width="2" height="20.8" fill="#2e8b74"/>
<text x="15.7" y="19.50" font-size="11" font-weight="bold" fill="#fff">XAG/USD</text>
<rect x="5" y="32" width="90" height="20.8" fill="#000" fill-opacity="0.62"/>
<rect x="5" y="32" width="2" height="20.8" fill="#0000ff"/>
<text x="15.7" y="45.50" font-size="11" font-weight="bold" fill="#fff">SMA (200,0)</text>
<rect x="5" y="436" width="109" height="20.8" fill="#000" fill-opacity="0.62"/>
<rect x="5" y="436" width="2" height="20.8" fill="#0000ff"/>
<text x="15.7" y="449.50" font-size="11" font-weight="bold" fill="#fff">MACD (12,26,9)</text>
</svg>
</body>
</html>
